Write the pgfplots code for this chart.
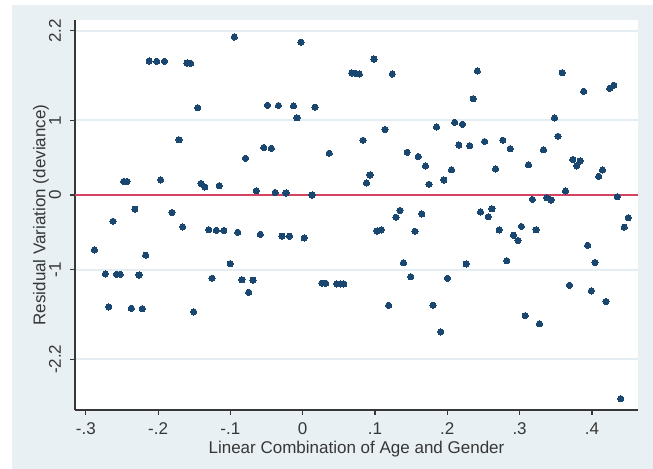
\documentclass[border=0pt]{standalone}
\usepackage{pgfplots}
\pgfplotsset{compat=1.18}
\usepackage{fontspec}
\setmainfont{Liberation Sans}
\definecolor{bgc}{RGB}{232,240,243}
\definecolor{gridc}{RGB}{228,237,241}
\definecolor{navy}{RGB}{26,71,111}
\definecolor{redl}{RGB}{212,68,98}
\definecolor{txt}{RGB}{55,55,55}
\pgfplotstableread{
x y
-0.2882 -0.7363
-0.2730 -1.0576
-0.2683 -1.4994
-0.2624 -0.3521
-0.2575 -1.0616
-0.2524 -1.0616
-0.2476 0.1807
-0.2430 0.1807
-0.2371 -1.5167
-0.2322 -0.1901
-0.2264 -1.0710
-0.2218 -1.5221
-0.2172 -0.8059
-0.2123 1.7938
-0.2018 1.7898
-0.1911 1.7898
-0.1964 0.2008
-0.1808 -0.2343
-0.1711 0.7389
-0.1660 -0.4284
-0.1600 1.7670
-0.1549 1.7630
-0.1508 -1.5662
-0.1451 1.1687
-0.1407 0.1540
-0.1355 0.1071
-0.1300 -0.4645
-0.1254 -1.1151
-0.1195 -0.4726
-0.1154 0.1245
-0.1091 -0.4752
-0.1003 -0.9197
-0.0946 2.1151
-0.0898 -0.4993
-0.0840 -1.1352
-0.0791 0.4913
-0.0747 -1.3025
-0.0687 -1.1406
-0.0642 0.0562
-0.0586 -0.5261
-0.0538 0.6359
-0.0487 1.2008
-0.0434 0.6265
-0.0380 0.0335
-0.0335 1.1981
-0.0286 -0.5515
-0.0231 0.0268
-0.0183 -0.5515
-0.0127 1.1941
-0.0079 1.0335
-0.0024 2.0455
0.0021 -0.5756
0.0129 0.0000
0.0170 1.1754
0.0267 -1.1821
0.0318 -1.1821
0.0367 0.5596
0.0472 -1.1914
0.0519 -1.1914
0.0568 -1.1914
0.0678 1.6332
0.0730 1.6292
0.0783 1.6198
0.0834 0.7323
0.0882 0.1606
0.0931 0.2677
0.0986 1.8206
0.1028 -0.4819
0.1087 -0.4685
0.1138 0.8768
0.1189 -1.4766
0.1239 1.6198
0.1290 -0.2985
0.1346 -0.2075
0.1394 -0.9063
0.1445 0.5716
0.1495 -1.0937
0.1553 -0.4859
0.1598 0.5154
0.1647 -0.2543
0.1698 0.3882
0.1747 0.1432
0.1802 -1.4766
0.1851 0.9103
0.1909 -1.8340
0.1952 0.2008
0.2003 -1.1151
0.2058 0.3387
0.2102 0.9732
0.2159 0.6693
0.2210 0.9478
0.2261 -0.9237
0.2311 0.6600
0.2358 1.2892
0.2415 1.6600
0.2459 -0.2276
0.2515 0.7162
0.2567 -0.2918
0.2618 -0.1847
0.2669 0.3481
0.2718 -0.4685
0.2768 0.7336
0.2822 -0.8795
0.2871 0.6198
0.2916 -0.5382
0.2978 -0.6091
0.3026 -0.4217
0.3077 -1.6158
0.3123 0.4056
0.3178 -0.0602
0.3227 -0.4659
0.3275 -1.7229
0.3331 0.6064
0.3375 -0.0361
0.3434 -0.0669
0.3485 1.0308
0.3531 0.7858
0.3589 1.6372
0.3635 0.0535
0.3690 -1.2088
0.3736 0.4752
0.3790 0.3882
0.3838 0.4552
0.3887 1.3882
0.3942 -0.6733
0.3992 -1.2851
0.4043 -0.9036
0.4094 0.2503
0.4147 0.3347
0.4195 -1.4284
0.4246 1.4284
0.4303 1.4685
0.4350 -0.0228
0.4398 -2.7269
0.4448 -0.4311
0.4503 -0.3052
}\resid
\begin{document}
\fontsize{8.5pt}{10pt}\selectfont
\begin{tikzpicture}
\path[use as bounding box] (-37.5pt,-29.5pt) rectangle (289pt,205pt);
\fill[bgc] (-31.5pt,-29.5pt) rectangle (289pt,202.5pt);
\fill[white] (0pt,0pt) rectangle (281.5pt,195pt);
\begin{axis}[
  at={(0pt,0pt)}, anchor=south west,
  scale only axis, width=281.5pt, height=195pt,
  xmin=-0.31494, xmax=0.46376, ymin=-2.879, ymax=2.3433,
  axis lines*=left,
  axis line style={txt, line width=0.7pt, -},
  tick align=outside,
  major tick length=2.4pt,
  tick style={txt, line width=0.6pt},
  xtick={-0.3,-0.2,-0.1,0,0.1,0.2,0.3,0.4},
  xticklabels={-.3,-.2,-.1,0,.1,.2,.3,.4},
  ytick={-2.2,-1,0,1,2.2},
  yticklabels={-2.2,-1,0,1,2.2},
  minor tick num=0,
  ymajorgrids,
  major grid style={gridc, line width=1pt},
  every tick label/.append style={font=\fontsize{8.5pt}{10pt}\selectfont, text=txt},
  xticklabel style={anchor=base, inner sep=0pt},
  xticklabel shift=9.8pt,
  yticklabel style={rotate=90, anchor=south, inner xsep=0pt, inner ysep=4.4pt},
  xlabel={Linear Combination of Age and Gender},
  ylabel={Residual Variation (deviance)},
  xlabel style={at={(axis description cs:0.5,-0.1128)}, anchor=base, inner sep=0pt, font=\fontsize{8.5pt}{10pt}\selectfont, text=txt},
  ylabel style={at={(axis description cs:-0.0524,0.5)}, anchor=base, inner sep=0pt, font=\fontsize{8.5pt}{10pt}\selectfont, text=txt},
]
\addplot[redl, line width=1.2pt, forget plot] coordinates {(-0.31494,0) (0.46376,0)};
\addplot[only marks, mark=*, mark size=1.55pt, mark options={fill=navy, draw=navy, line width=0pt}] table[x=x, y=y] {\resid};
\end{axis}
\end{tikzpicture}
\end{document}
